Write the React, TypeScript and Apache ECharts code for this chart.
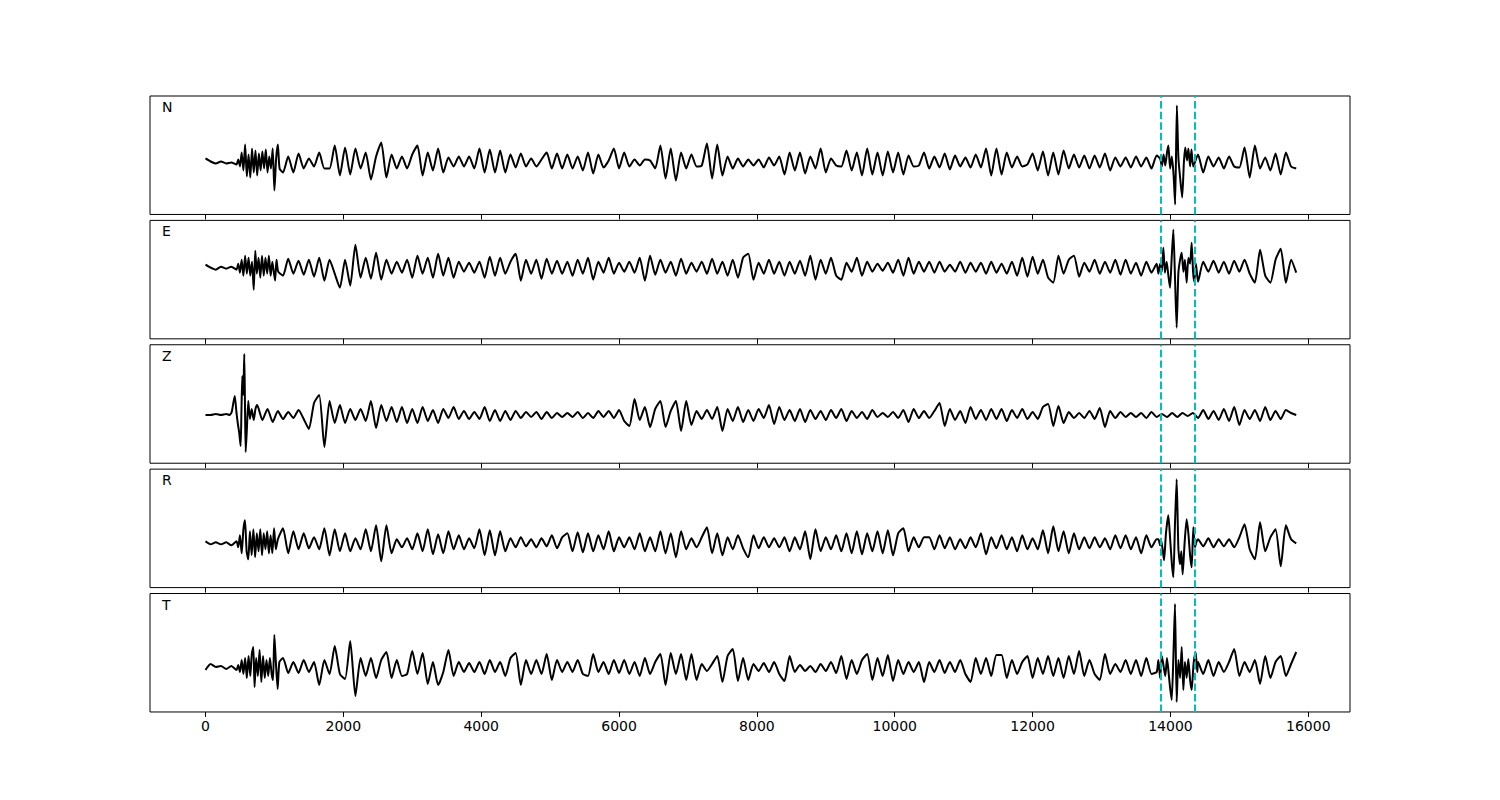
import React, { useEffect, useRef } from "react";
import * as echarts from "echarts";

// Sampling interval of the base traces (x units per sample)
const DT = 75;

// Axis setup
const X_MIN = -805;
const X_MAX = 16605;
const X_TICKS = [0, 2000, 4000, 6000, 8000, 10000, 12000, 14000, 16000];
const DASH_LINES = [13858, 14358];

const LABELS = ["N", "E", "Z", "R", "T"];
// y-range of each panel (amplitude units)
const Y_MIN = [-52, -71.2, -48.2, -44.3, -44];
const Y_MAX = [66.5, 47.3, 70.2, 74.2, 74.5];

// Base samples (one every DT), amplitude
const N_BASE = [
  4, 1, -1, 1, -1, 0, -3, 16, -14, 12,
  -12, 10, 14, -28, 18, -10, 6, -10, 9, -6,
  4, -4, 10, -6, -6, 17, -13, 15, -12, 14,
  -6, 10, -17, 6, 20, -15, 8, -6, 6, -6,
  8, 17, -13, 10, -8, 14, -10, 5, -4, 6,
  -4, 6, -6, 14, -10, 13, -10, 12, -10, 8,
  -5, 9, -4, 4, -4, 3, 10, -6, 9, -6,
  8, -6, 6, -8, 10, -11, 8, -5, 2, 14,
  -6, 10, -4, 3, -3, 3, 2, -6, 17, -16,
  14, -18, 10, -6, 8, -4, -3, 19, -16, 18,
  -13, 6, -6, 4, -4, 3, -3, 3, -5, 5,
  -3, 6, -12, 10, -8, 10, -11, 6, -6, 14,
  -10, 4, -3, -4, 12, -8, 10, -13, 14, -12,
  10, -13, 11, -10, 10, -12, 7, -4, -3, 10,
  -6, 6, -5, 9, -7, 7, -4, 5, -5, 8,
  -5, 14, -13, 14, -12, 10, -5, 6, -4, -2,
  9, -8, 11, -13, 10, -12, 12, -6, 8, -5,
  7, -6, 7, -5, 9, -8, 5, -4, 5, -5,
  6, -4, 5, -6, 7, -8, 17, -40, 57, -35,
  15, -4, 8, -10, 6, -4, 5, -6, 6, -4,
  -5, 15, -15, 17, -6, 5, -8, 9, -12, 10,
  -4, -6,
];
const E_BASE = [
  3, 0, -2, 1, -1, 1, -3, 6, 12, -22,
  17, -8, 12, -13, 10, -8, 9, -6, 7, -7,
  8, -9, 10, -13, 8, -6, -20, 8, -18, 23,
  -10, 10, -11, 15, -12, 8, -6, 6, -5, 8,
  -10, 12, -6, 10, -10, 14, -8, 10, -10, 6,
  -4, 5, -5, 6, -10, 11, -8, 10, -6, 6,
  14, -13, 8, -6, 8, -11, 9, -6, 7, -6,
  6, -8, 8, -6, 10, -12, 6, -5, 10, -6,
  5, -4, 6, -5, 10, -13, 12, -7, 8, -5,
  6, -8, 9, -6, 5, -4, 6, -6, 9, -6,
  6, -8, 8, -10, 10, 14, -12, 5, -6, 8,
  -6, 6, -8, 6, -6, 7, -8, 12, -12, 8,
  -6, 10, -8, -12, 5, -4, 10, -8, 6, -4,
  4, -3, 5, -5, 8, -8, 10, -6, 6, -4,
  6, -5, 6, -4, 3, -4, 6, -5, 5, -4,
  5, -6, 6, -5, 4, -6, 6, -8, 10, -9,
  11, -6, 8, -10, -15, 12, -6, 8, 12, -9,
  5, -4, 8, -6, 6, -5, 8, -7, 8, -6,
  5, -8, 6, -5, 4, 20, -20, 38, -60, 15,
  -15, 25, -14, 6, -4, 7, -5, 6, -6, 7,
  -4, 8, -6, -15, 18, -8, -15, 8, 19, -15,
  8, -5,
];
const Z_BASE = [
  0, 0, 1, 0, 1, 0, 0, 0, 0, 0,
  10, -5, 6, -7, 4, -4, 3, -3, 5, -4,
  -14, 12, 20, -32, 14, -8, 10, -8, 6, -5,
  6, -6, 14, -13, 10, -6, 8, -7, 8, -8,
  6, -8, 8, -6, 5, -8, 6, -3, 8, -4,
  4, -4, 3, -4, 8, -6, 5, -6, 4, -5,
  4, -3, 3, -2, 3, -4, 3, -3, 2, -2,
  2, -2, 3, -3, 2, -3, 4, -2, 4, -3,
  5, -6, -11, 16, -5, 8, -12, 6, 14, -12,
  4, 14, -16, 14, -10, 4, -4, 5, -4, 8,
  -16, 6, -6, 8, -7, 5, -6, 6, -3, 10,
  -9, 8, -5, 5, -6, 6, -7, 5, -4, 4,
  -5, 5, -3, 6, -6, 4, -3, 3, -4, 5,
  -2, 2, -2, 3, -3, 5, -7, 6, -3, 4,
  -3, 4, 12, -11, 6, -5, 4, -8, 8, -4,
  5, -5, 6, -4, 6, -6, 5, -3, 6, -4,
  3, -4, 8, 11, -11, 9, -8, 3, -3, 2,
  -3, 4, -4, 7, -12, 4, -3, 3, -2, 2,
  -2, 2, -3, 3, -2, 1, -2, 2, -2, 2,
  -1, 2, -3, 5, -4, 4, -5, 6, -6, 8,
  -10, 5, -4, 5, -6, 8, -5, 4, -4, 5,
  2, 0,
];
const R_BASE = [
  2, -1, 1, -1, 1, -2, 2, 0, 0, 0,
  0, 0, 0, 0, 0, 15, -10, 12, -6, 10,
  -5, 6, -6, 15, -12, 14, -8, 10, -8, 5,
  -6, 14, -8, 18, -18, 18, -10, 4, -4, 5,
  -6, 10, -8, 14, -11, 9, -10, 12, -6, 8,
  -6, 5, -5, 14, -12, 13, -12, 12, -8, 5,
  -4, 6, -3, 4, -4, 5, -3, 8, -5, 6,
  10, -8, 11, -9, 10, -8, 8, -6, 12, -8,
  6, -4, 6, -6, 10, -8, 6, -8, 12, -10,
  10, -14, 12, -6, 5, -4, 6, 16, -10, 10,
  -12, 6, -6, 8, -5, -14, 8, -5, 6, -4,
  5, -4, 6, -8, 6, -6, 12, -16, 14, -8,
  6, -6, 8, -8, 10, -10, 12, -11, 10, -8,
  12, -10, 13, -12, 10, 15, -8, 6, -4, 6,
  6, -6, 8, -5, 6, -6, 4, -5, 6, -4,
  10, -11, 6, -5, 8, -6, 6, -8, 8, -6,
  5, -6, 13, -10, 17, -8, 12, -10, 10, -6,
  6, -5, 6, -4, 5, -6, 8, -5, 8, -6,
  6, -10, 8, -4, 4, 0, 0, 0, 0, 0,
  0, 0, 4, -3, 5, -4, 4, -3, 4, -4,
  6, 19, -6, -16, 21, -8, 6, 14, -23, 18,
  4, 0,
];
const T_BASE = [
  -2, 4, 1, 2, -1, 2, 0, 0, 0, 0,
  0, 0, 0, 0, 0, 10, -5, 6, -5, 8,
  -4, 6, -17, 8, -6, 22, -6, -11, 27, -28,
  10, -8, 10, -10, 8, 16, -10, 8, -8, -6,
  17, -6, 15, -16, 6, -17, -4, 18, -8, 6,
  -4, 5, -4, 6, -6, 8, -4, 6, -8, 10,
  15, -17, 8, -6, 8, -6, 14, -12, 8, -4,
  6, -4, 8, -6, -8, 14, -4, 6, -6, 8,
  -5, 8, -6, 6, -8, 10, -6, 6, 14, -17,
  15, -6, 14, -12, 14, -12, 4, -3, 4, 12,
  -14, 12, 19, -13, 10, -12, 4, -3, 5, -4,
  6, -6, -13, 12, -4, 3, -3, 2, -4, 4,
  -3, 6, -5, 12, -11, 8, -6, 8, 14, -12,
  10, -8, 13, -13, 8, -6, 6, -4, 6, -14,
  6, -4, 8, -5, 6, -4, 8, -6, -14, 10,
  -6, 10, -8, 13, 13, -10, 8, -6, 6, 12,
  -10, 10, -6, 12, -8, 10, -10, 12, -6, 17,
  -8, 8, -6, -12, 14, -6, 4, -4, 8, -6,
  8, -8, 10, -6, -4, 0, 0, 0, 0, 0,
  0, 0, 6, -6, 8, -8, 6, -4, 6, 19,
  -8, 6, -4, 8, -16, 12, -10, 6, 12, -8,
  4, 16,
];

// Finer readings of the bursts: [x, amplitude]
const N_ONSET = [
  [450, -2], [475, 3], [500, -4], [525, 10], [550, -8], [575, 18], [600, -14], [625, 8],
  [650, -15], [675, 14], [700, -10], [725, 12], [750, -13], [775, 9], [800, -8], [825, 11],
  [850, -6], [875, 13], [900, -10], [925, 6], [950, -6], [975, 14], [1000, -28], [1025, 4],
  [1050, 18], [1075, -6],
];
const N_SPIKE = [
  [13850, 4], [13875, -4], [13900, 8], [13925, -3], [13950, 10], [13970, 17], [13995, -6],
  [14020, 6], [14045, -12], [14068, -42], [14093, 57], [14115, 5], [14140, -15], [14170, -35],
  [14195, 0], [14215, 15], [14240, 2], [14260, 14], [14285, -4], [14305, 13], [14330, -4],
];
const E_ONSET = [
  [450, -2], [475, 4], [500, -5], [525, 8], [550, -8], [575, 12], [600, -6], [625, 10],
  [650, -8], [675, 6], [700, -22], [722, 17], [745, -6], [770, 10], [795, -10], [820, 12],
  [845, -8], [870, 10], [895, -6], [920, 12], [945, -8], [970, 6], [990, -4], [1010, -13],
  [1030, 8], [1055, -4],
];
const E_SPIKE = [
  [13825, -6], [13850, 4], [13875, -4], [13897, 20], [13920, -5], [13945, 6], [13970, -8],
  [13994, -20], [14018, 10], [14042, 38], [14066, -10], [14090, -60], [14115, -5], [14140, 8],
  [14163, 15], [14188, -4], [14210, 8], [14235, -15], [14260, 10], [14285, 4], [14308, 25],
  [14328, -4], [14346, -14], [14370, 4],
];
const Z_ONSET = [
  [350, 0], [380, 3], [404, 12], [425, 19], [450, 2], [470, -9], [490, -18], [510, -31],
  [522, 5], [534, 39], [548, 20], [563, 61], [573, 10], [583, -37], [600, -15], [621, 14],
  [645, -4], [670, 6], [700, -5], [725, 6],
];
const R_ONSET = [
  [450, 2], [475, -4], [500, 8], [525, -10], [550, 14], [573, 23], [597, -8], [621, -16],
  [645, 12], [670, -12], [695, 14], [720, -14], [745, 10], [770, -8], [795, 14], [820, -12],
  [845, 10], [870, -6], [895, 12], [920, -10], [945, 8], [970, -10], [995, 15], [1020, -6],
  [1050, 4],
];
const R_SPIKE = [
  [13825, 4], [13850, -2], [13860, 4], [13885, -5], [13907, -17], [13935, 10], [13969, 28],
  [13995, 5], [14020, -20], [14042, -34], [14066, 20], [14090, 64], [14115, -5], [14139, -21],
  [14158, -8], [14177, -31], [14205, 0], [14235, 24], [14260, 10], [14285, -12], [14308, -24],
  [14332, 16], [14355, -4], [14380, 2],
];
const T_ONSET = [
  [450, -2], [475, 3], [500, -4], [525, 8], [550, -6], [575, 10], [600, -10], [625, 12],
  [650, -8], [672, 14], [694, 21], [712, -19], [735, 10], [760, -8], [785, 18], [810, -14],
  [835, 12], [860, -10], [885, 8], [910, -8], [935, 10], [960, -6], [980, -12], [999, 33],
  [1022, 5], [1047, -21], [1072, 6],
];
const T_SPIKE = [
  [13825, 8], [13850, -10], [13875, 12], [13900, 2], [13925, -8], [13950, 10], [13975, -6],
  [13995, -20], [14018, -32], [14042, 10], [14066, 64], [14090, -34], [14115, 8], [14140, -10],
  [14163, 21], [14187, -22], [14210, 6], [14235, -10], [14259, 9], [14285, -12], [14308, -22],
  [14335, 4], [14365, 16], [14390, -4],
];

const TRACES = [
  { base: N_BASE, details: [N_ONSET, N_SPIKE] },
  { base: E_BASE, details: [E_ONSET, E_SPIKE] },
  { base: Z_BASE, details: [Z_ONSET] },
  { base: R_BASE, details: [R_ONSET, R_SPIKE] },
  { base: T_BASE, details: [T_ONSET, T_SPIKE] },
];

function buildTrace(base: number[], details: number[][][]) {
  let pts: number[][] = base.map((v, i) => [i * DT, v]);
  for (const d of details) {
    const lo = d[0][0];
    const hi = d[d.length - 1][0];
    pts = pts.filter((p) => p[0] < lo || p[0] > hi).concat(d);
  }
  pts.sort((a, b) => a[0] - b[0]);
  return pts;
}

// Layout (pixels)
const LEFT = 150;
const WIDTH = 1200;
const TOP0 = 96;
const PANEL_H = 118.46;
const GAP = 5.92;

export default function App() {
  const ref = useRef<HTMLDivElement>(null);
  useEffect(() => {
    if (!ref.current) return;
    const chart = echarts.init(ref.current, undefined, { renderer: "svg" });
    const grids: any[] = [];
    const xAxes: any[] = [];
    const yAxes: any[] = [];
    const series: any[] = [];
    const graphics: any[] = [];
    TRACES.forEach((tr, i) => {
      const top = TOP0 + i * (PANEL_H + GAP);
      grids.push({
        left: LEFT,
        top,
        width: WIDTH,
        height: PANEL_H,
        show: true,
        borderColor: "#000",
        borderWidth: 1,
        backgroundColor: "transparent",
      });
      xAxes.push({
        type: "value",
        gridIndex: i,
        position: "bottom",
        min: X_MIN,
        max: X_MAX,
        axisLine: { show: false, onZero: false },
        splitLine: { show: false },
        axisTick: {
          show: true,
          customValues: X_TICKS,
          length: 5,
          inside: false,
          lineStyle: { color: "#000", width: 1 },
        },
        axisLabel: {
          show: i === TRACES.length - 1,
          customValues: X_TICKS,
          formatter: (v: number) => String(v),
          color: "#000",
          fontSize: 14,
          fontFamily: "DejaVu Sans",
          margin: 7,
        },
      });
      yAxes.push({
        type: "value",
        gridIndex: i,
        min: Y_MIN[i],
        max: Y_MAX[i],
        show: false,
        splitLine: { show: false },
      });
      series.push({
        type: "line",
        xAxisIndex: i,
        yAxisIndex: i,
        data: buildTrace(tr.base, tr.details),
        showSymbol: false,
        symbol: "none",
        smooth: 0.2,
        lineStyle: { color: "#000", width: 2 },
        silent: true,
        markLine: {
          silent: true,
          symbol: ["none", "none"],
          label: { show: false },
          lineStyle: { color: "#00BFBF", type: [7.4, 3.2], width: 2 },
          data: DASH_LINES.map((x) => ({ xAxis: x })),
        },
      });
      graphics.push({
        type: "text",
        left: 162,
        top: top + 4,
        style: {
          text: LABELS[i],
          fill: "#000",
          font: "14px 'DejaVu Sans'",
        },
      });
    });
    chart.setOption({
      animation: false,
      backgroundColor: "#fff",
      grid: grids,
      xAxis: xAxes,
      yAxis: yAxes,
      series,
      graphic: graphics,
    });
    return () => chart.dispose();
  }, []);
  return (
    <div
      ref={ref}
      style={{ position: "fixed", left: 0, top: 0, width: 1500, height: 800, background: "#fff" }}
    />
  );
}
